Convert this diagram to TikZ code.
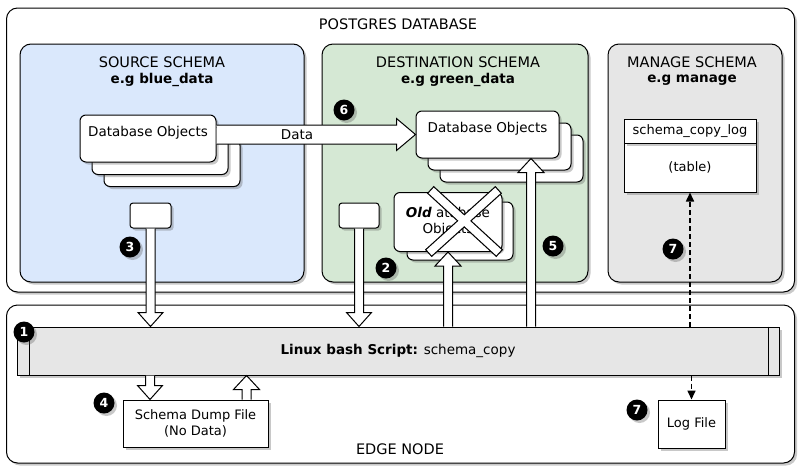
\documentclass[tikz,border=0pt]{standalone}
\usepackage{fontspec}
\setmainfont{DejaVu Sans}
\usetikzlibrary{calc,shadows,arrows.meta}
\definecolor{blueF}{HTML}{DAE8FC}
\definecolor{greenF}{HTML}{D5E8D4}
\definecolor{greyF}{HTML}{E6E6E6}
\tikzset{
 sh/.style={drop shadow={shadow xshift=2.5pt,shadow yshift=-2.5pt,opacity=0.3,fill=black!70}},
 grp/.style={draw,line width=1pt,rounded corners=11pt,sh},
 obj/.style={draw,line width=1pt,fill=white,rounded corners=6pt,sh},
 plainbox/.style={draw,line width=1pt,fill=white,sh,align=center,font=\fontsize{13}{16}\selectfont},
 ttl/.style={font=\fontsize{14.5}{17}\selectfont},
 sub/.style={font=\fontsize{13.5}{16}\selectfont\bfseries},
 num/.style={circle,fill=black,text=white,font=\fontsize{12.5}{14}\selectfont\bfseries,inner sep=0pt,minimum size=21pt,sh},
 fatline/.style={draw,line width=1pt,fill=white,line join=miter},
 dashar/.style={line width=1.6pt,dash pattern=on 5pt off 3pt,-{Triangle[length=9pt,width=8pt]}},
 lbl/.style={font=\fontsize{13.5}{16}\selectfont}
}
\newcommand\fatarr[5]{%
 \coordinate (fa-a) at (#1);
 \coordinate (fa-b) at (#2);
 \coordinate (fa-c) at ($(fa-b)!#5!(fa-a)$);
 \path[fatline] ($(fa-a)!#3!90:(fa-b)$) -- ($(fa-c)!#3!90:(fa-b)$) -- ($(fa-c)!#4!90:(fa-b)$) -- (fa-b) -- ($(fa-c)!#4!-90:(fa-b)$) -- ($(fa-c)!#3!-90:(fa-b)$) -- ($(fa-a)!#3!-90:(fa-b)$);
}
\begin{document}
\begin{tikzpicture}[x=1pt,y=-1pt]
\useasboundingbox (0,0) rectangle (800,469);
% outer groups
\node[grp,fill=white,minimum width=788pt,minimum height=284pt] (pg) at (400.5,150) {};
\node[ttl] (pgt) at (398,24) {POSTGRES DATABASE};
\node[grp,fill=white,minimum width=788pt,minimum height=158pt] (edge) at (400.5,384) {};
\node[ttl] (edget) at (400,449) {EDGE NODE};
% schemas
\node[grp,fill=blueF,minimum width=284pt,minimum height=238pt] (src) at (162,163) {};
\node[ttl] (srct) at (162,62) {SOURCE SCHEMA};
\node[sub] (srcs) at (162,80) {e.g blue\_data};
\node[grp,fill=greenF,minimum width=266pt,minimum height=238pt] (dst) at (455,163) {};
\node[ttl] (dstt) at (458,62) {DESTINATION SCHEMA};
\node[sub] (dsts) at (458,80) {e.g green\_data};
\node[grp,fill=greyF,minimum width=174pt,minimum height=238pt] (mng) at (695,163) {};
\node[ttl] (mngt) at (692,62) {MANAGE SCHEMA};
\node[sub] (mngs) at (692,80) {e.g manage};
% source objects
\node[obj,minimum width=136pt,minimum height=47pt] (srcobj3) at (172,163) {};
\node[obj,minimum width=136pt,minimum height=47pt] (srcobj2) at (160,151) {};
\node[obj,minimum width=136pt,minimum height=47pt,label={[lbl,anchor=north,yshift=-8pt]north:Database Objects}] (srcobj) at (148,138.5) {};
% destination objects
\node[obj,minimum width=143pt,minimum height=47pt] (dstobj3) at (511.5,158.5) {};
\node[obj,minimum width=143pt,minimum height=47pt] (dstobj2) at (499.5,146.5) {};
\node[obj,minimum width=143pt,minimum height=47pt,label={[lbl,anchor=north,yshift=-8pt]north:Database Objects}] (dstobj) at (487.5,134.5) {};
% small boxes
\node[obj,rounded corners=3pt,minimum width=41pt,minimum height=25pt] (srcsm) at (150.5,215.5) {};
\node[obj,rounded corners=3pt,minimum width=40pt,minimum height=25pt] (dstsm) at (359,215.5) {};
% old objects
\node[obj,minimum width=106pt,minimum height=58pt] (old2) at (460,231) {};
\node[obj,minimum width=108pt,minimum height=59pt,lbl,align=center] (old) at (448,222) {{\bfseries\itshape Old} atabase\\Objects};
% table
\node[plainbox,minimum width=132pt,minimum height=49pt] (tbl) at (690,167.5) {(table)};
\node[plainbox,minimum width=132pt,minimum height=24pt] (tblh) at (690,131) {schema\_copy\_log};
% bash bar
\node[draw,line width=1pt,fill=greyF,minimum width=762pt,minimum height=48pt,sh,lbl] (bar) at (398,351) {\textbf{Linux bash Script:} schema\_copy};
\draw[line width=1pt] ($(bar.north west)+(13,0)$) -- ($(bar.south west)+(13,0)$);
\draw[line width=1pt] ($(bar.north east)+(-11,0)$) -- ($(bar.south east)+(-11,0)$);
% files
\node[plainbox,minimum width=145pt,minimum height=47pt] (dump) at (195.5,423.5) {Schema Dump File\\(No Data)};
\node[plainbox,minimum width=67pt,minimum height=48pt] (log) at (691.5,424) {Log File};
% X over old objects
\draw[line width=10pt,line cap=rect] (434,193) -- (496,250) (495,193) -- (432,250);
\draw[white,line width=7.6pt,line cap=rect] (434,193) -- (496,250) (495,193) -- (432,250);
% hollow arrows
\fatarr{srcobj.east |- dstobj.west}{dstobj.west}{9.5pt}{16pt}{19pt}
\node[lbl] (datal) at (297,135) {Data};
\fatarr{srcsm.south}{srcsm.south |- bar.north}{4.5pt}{12.5pt}{14pt}
\fatarr{dstsm.south}{dstsm.south |- bar.north}{4.5pt}{12.5pt}{14pt}
\fatarr{bar.north -| old.south}{old.south}{4.5pt}{13pt}{14pt}
\fatarr{bar.north -| 531,0}{dstobj.south -| 531,0}{4.5pt}{13pt}{14pt}
\fatarr{bar.south -| 150,0}{dump.north -| 150,0}{4.5pt}{12.5pt}{14pt}
\fatarr{dump.north -| 246.5,0}{bar.south -| 246.5,0}{4.5pt}{13pt}{14pt}
% dashed arrows
\draw[dashar] (tbl.south |- bar.north) -- (tbl.south);
\draw[dashar] (log.north |- bar.south) -- (log.north);
% numbers
\node[num] (n1) at (24,332) {1};
\node[num] (n2) at (386,268) {2};
\node[num] (n3) at (130,247) {3};
\node[num] (n4) at (104,403) {4};
\node[num] (n5) at (553,246) {5};
\node[num] (n6) at (344,110) {6};
\node[num] (n7a) at (673,249) {7};
\node[num] (n7b) at (637,410) {7};
\end{tikzpicture}
\end{document}
